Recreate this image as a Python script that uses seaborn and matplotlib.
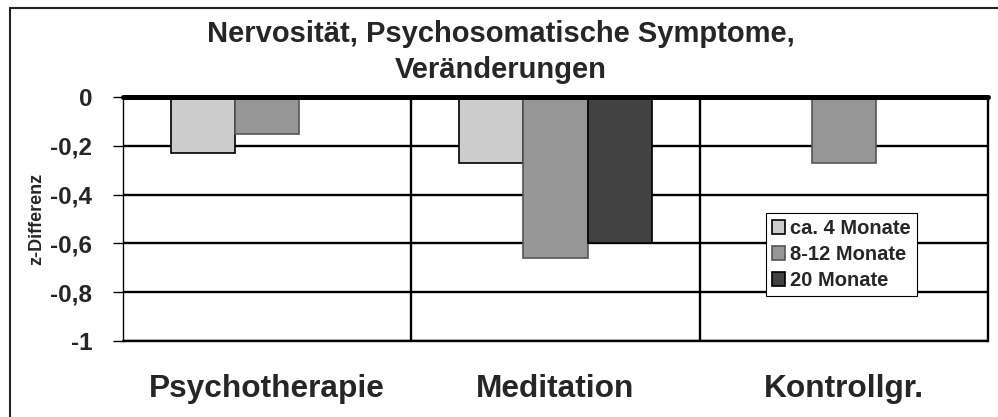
import numpy as np
import pandas as pd
import matplotlib.pyplot as plt
import seaborn as sns
from matplotlib.patches import Patch
from matplotlib.lines import Line2D

# data
groups = ["Psychotherapie", "Meditation", "Kontrollgr."]
periods = ["ca. 4 Monate", "8-12 Monate", "20 Monate"]
val_4m = [-0.23, -0.27, np.nan]
val_8_12m = [-0.15, -0.66, -0.27]
val_20m = [np.nan, -0.60, np.nan]
yticks = [0, -0.2, -0.4, -0.6, -0.8, -1]
ytick_labels = ["0", "-0,2", "-0,4", "-0,6", "-0,8", "-1"]

colors = ["#cccccc", "#969696", "#424242"]
edges = ["#000000", "#555555", "#000000"]

df = pd.DataFrame({
    "Gruppe": groups * 3,
    "Zeitraum": [p for p in periods for _ in groups],
    "z": val_4m + val_8_12m + val_20m,
})

sns.set_theme(style="white")
plt.rcParams['font.family'] = ['Liberation Sans', 'DejaVu Sans']
plt.rcParams['font.weight'] = 'bold'

fig = plt.figure(figsize=(9.98, 4.17), dpi=100)
ax = fig.add_axes([123 / 998, 1 - 341 / 417, 865 / 998, 244 / 417])

sns.barplot(data=df, x="Gruppe", y="z", hue="Zeitraum", order=groups,
            hue_order=periods, palette=colors, width=0.67, saturation=1,
            errorbar=None, legend=False, ax=ax, zorder=3)

for cont, ec in zip(ax.containers, edges):
    for bar in cont:
        bar.set_edgecolor(ec)
        bar.set_linewidth(1.2)

ax.set_ylim(-1, 0)
ax.set_xlim(-0.5, 2.5)
ax.set_yticks(yticks)
ax.set_yticklabels(ytick_labels, fontsize=17.5, fontweight='bold')
ax.set_xticks(range(len(groups)))
ax.set_xticklabels(groups, fontsize=22.8, fontweight='bold')
ax.tick_params(axis='x', length=0, pad=24)
ax.tick_params(axis='y', direction='out', length=7, width=1, color='black',
               pad=15, left=True)

# horizontal grid and group separators
ax.set_xticks([0.5, 1.5], minor=True)
ax.tick_params(axis='x', which='minor', length=0)
ax.grid(axis='y', which='major', color='black', linewidth=1.7, zorder=1)
ax.grid(axis='x', which='minor', color='black', linewidth=1.7, zorder=1)
ax.set_axisbelow(True)
ax.axhline(0, color='black', linewidth=3.6, zorder=5, clip_on=False)

for side in ["top", "bottom"]:
    ax.spines[side].set_visible(False)
ax.spines["left"].set_color('black')
ax.spines["left"].set_linewidth(1.0)
ax.spines["right"].set_color('black')
ax.spines["right"].set_linewidth(1.7)
ax.axhline(-1, color='black', linewidth=1.7, zorder=2, clip_on=False)

ax.set_xlabel("")
ax.set_ylabel("z-Differenz", fontsize=13, fontweight='bold')
ax.yaxis.set_label_coords(-0.09, 0.5)

handles = [Patch(facecolor=c, edgecolor=e, linewidth=1.2) for c, e in zip(colors, edges)]
leg = ax.legend(handles, periods, loc='upper left',
                bbox_to_anchor=(766 / 998, 1 - 213 / 417),
                bbox_transform=fig.transFigure, borderaxespad=0,
                fancybox=False, framealpha=1, edgecolor='black',
                prop={'size': 14.5, 'weight': 'bold'},
                handlelength=0.65, handleheight=0.65, handletextpad=0.25,
                labelspacing=0.35, borderpad=0.3)
leg.get_frame().set_linewidth(0.8)
leg.set_zorder(10)

fig.text(0.5015, 1 - 42 / 417, "Nervosität, Psychosomatische Symptome,",
         ha='center', va='baseline', fontsize=21, fontweight='bold')
fig.text(0.5015, 1 - 78 / 417, "Veränderungen",
         ha='center', va='baseline', fontsize=21, fontweight='bold')

# outer frame of the chart area
fig.add_artist(Line2D([10 / 998, 10 / 998], [0, 1 - 8 / 417],
                      transform=fig.transFigure, color='#222222', linewidth=1.5))
fig.add_artist(Line2D([10 / 998, 1], [1 - 8 / 417, 1 - 8 / 417],
                      transform=fig.transFigure, color='#222222', linewidth=1.5))

fig.savefig("out.png", dpi=100, facecolor='white')
